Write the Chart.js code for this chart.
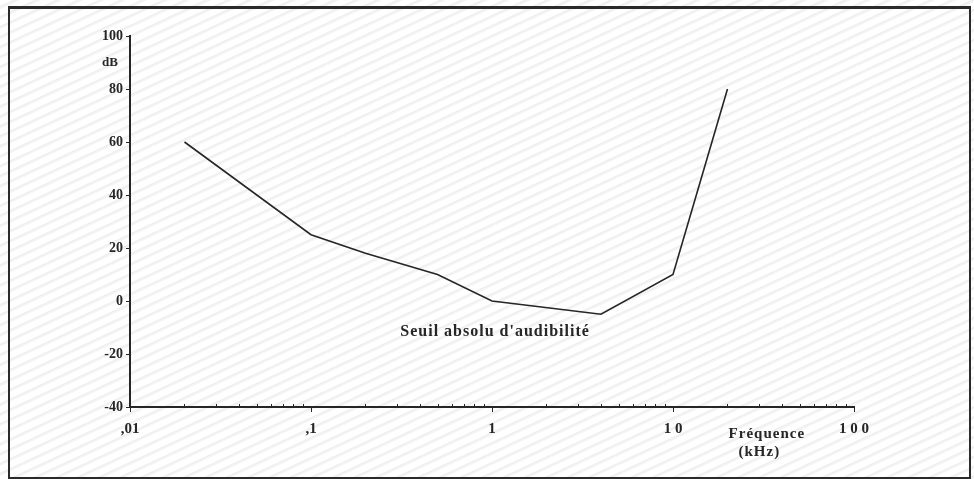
<!DOCTYPE html>
<html>
<head>
<meta charset="utf-8">
<script src="https://cdn.jsdelivr.net/npm/chart.js@4/dist/chart.umd.min.js"></script>
<style>
html,body{margin:0;padding:0;background:#fff;}
#wrap{position:relative;width:974px;height:479px;
  background:repeating-linear-gradient(155deg,#ffffff 0px,#ffffff 5px,#eeeeee 6px,#f6f6f6 8px,#ffffff 9px);}
#frame{position:absolute;left:8px;top:6px;width:959px;height:468px;border:2px solid #2a2a2a;border-top-width:3px;box-sizing:content-box;pointer-events:none;}
canvas{position:absolute;left:0;top:0;}
</style>
</head>
<body>
<div id="wrap">
<canvas id="c" width="974" height="479"></canvas>
<div id="frame"></div>
</div>
<script>
// Data (frequency in kHz, level in dB)
const frequencies = [0.02, 0.1, 0.2, 0.5, 1, 4, 10, 20];
const thresholdDb = [60, 25, 18, 10, 0, -5, 10, 80];
const xMajorTicks = [0.01, 0.1, 1, 10, 100];
const xMajorLabels = [",01", ",1", "1", "1 0", "1 0 0"];
const xMinorTicks = [0.02,0.03,0.04,0.05,0.06,0.07,0.08,0.09,0.2,0.3,0.4,0.5,0.6,0.7,0.8,0.9,2,3,4,5,6,7,8,9,20,30,40,50,60,70,80,90];
const yTickValues = [-40, -20, 0, 20, 40, 60, 80, 100];
const curveLabel = "Seuil absolu d'audibilité";
const xTitle = ["Fréquence", "(kHz)"];
const yUnit = "dB";

const ink = '#262626';
const fontFam = "'Liberation Serif', 'DejaVu Serif', serif";

const extras = {
  id: 'extras',
  afterDraw(chart) {
    const ctx = chart.ctx;
    const xs = chart.scales.x, ys = chart.scales.y;
    const area = chart.chartArea;
    ctx.save();
    // minor ticks on x axis
    ctx.strokeStyle = ink;
    ctx.lineWidth = 1;
    xMinorTicks.forEach(v => {
      const px = Math.round(xs.getPixelForValue(v)) + 0.5;
      ctx.beginPath();
      ctx.moveTo(px, area.bottom);
      ctx.lineTo(px, area.bottom - 3);
      ctx.stroke();
    });
    ctx.fillStyle = ink;
    // dB unit label
    ctx.font = "bold 13px " + fontFam;
    ctx.textAlign = 'right';
    ctx.textBaseline = 'middle';
    ctx.fillText(yUnit, area.left - 12, ys.getPixelForValue(100) + 27);
    // curve label
    ctx.letterSpacing = '1px';
    ctx.font = "bold 16px " + fontFam;
    ctx.textAlign = 'center';
    ctx.fillText(curveLabel, xs.getPixelForValue(1.04), ys.getPixelForValue(-11.5));
    // x title
    ctx.font = "bold 15px " + fontFam;
    ctx.fillText(xTitle[0], xs.getPixelForValue(33), area.bottom + 27);
    ctx.fillText(xTitle[1], xs.getPixelForValue(30), area.bottom + 45);
    ctx.restore();
  }
};

new Chart(document.getElementById('c'), {
  type: 'line',
  data: {
    datasets: [{
      data: frequencies.map((f, i) => ({x: f, y: thresholdDb[i]})),
      borderColor: ink,
      borderWidth: 1.6,
      pointRadius: 0,
      tension: 0,
      fill: false
    }]
  },
  options: {
    responsive: false,
    animation: false,
    devicePixelRatio: 1,
    layout: { padding: { left: 0, top: 36, right: 120, bottom: 32 } },
    plugins: { legend: { display: false }, tooltip: { enabled: false } },
    scales: {
      x: {
        type: 'logarithmic',
        min: 0.01, max: 100,
        afterBuildTicks(scale) { scale.ticks = xMajorTicks.map(v => ({value: v})); },
        afterFit(scale) { scale.height = 40; },
        border: { display: true, color: ink, width: 2 },
        grid: { display: true, drawOnChartArea: false, drawTicks: true, tickLength: 5, color: ink, tickWidth: 1 },
        ticks: {
          autoSkip: false, maxRotation: 0, padding: 8, color: ink,
          font: { family: fontFam, size: 15, weight: 'bold' },
          callback(v) { const i = xMajorTicks.indexOf(v); return i >= 0 ? xMajorLabels[i] : ''; }
        }
      },
      y: {
        type: 'linear',
        min: -40, max: 100,
        afterBuildTicks(scale) { scale.ticks = yTickValues.map(v => ({value: v})); },
        afterFit(scale) { scale.width = 130; },
        border: { display: true, color: ink, width: 2 },
        grid: { display: true, drawOnChartArea: false, drawTicks: true, tickLength: 4, color: ink, tickWidth: 1 },
        ticks: {
          padding: 3, color: ink,
          font: { family: fontFam, size: 14, weight: 'bold' },
          callback(v) { return String(v); }
        }
      }
    }
  },
  plugins: [extras]
});
</script>
</body>
</html>
